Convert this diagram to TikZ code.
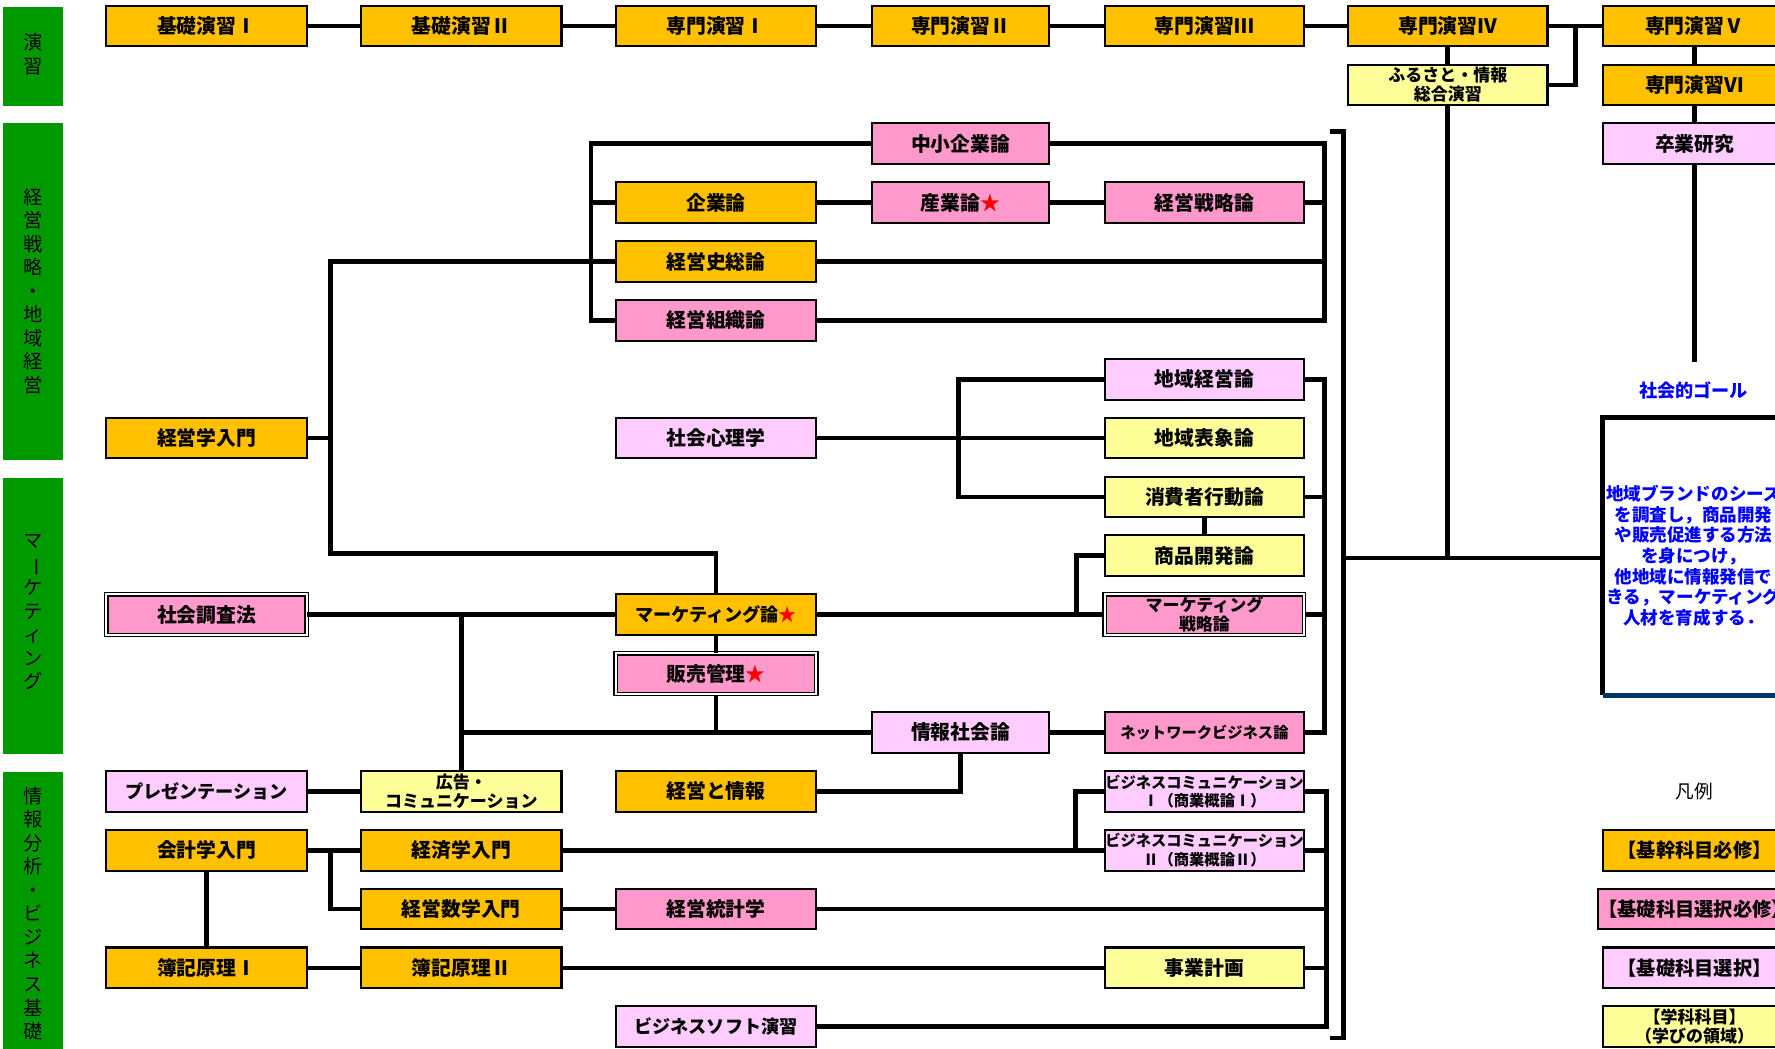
\documentclass[tikz,border=0pt]{standalone}
\usepackage{fontspec}
\usepackage{graphicx}
\setmainfont{Noto Sans CJK JP}
\definecolor{corange}{HTML}{FFC000}
\definecolor{cpink}{HTML}{FF99CC}
\definecolor{clpink}{HTML}{FFCCFF}
\definecolor{cyellow}{HTML}{FFFF99}
\definecolor{cgreen}{HTML}{009900}
\definecolor{cnavy}{HTML}{003366}
\definecolor{cblue}{HTML}{0000FF}
\newcommand{\rst}{\textcolor{red}{★}}
\begin{document}
\begin{tikzpicture}[x=1pt,y=-1pt,
  box/.style={draw, line width=1.8pt, minimum height=36pt, inner sep=0pt, align=center,
    font=\bfseries\fontsize{17.5}{18}\selectfont},
  cA/.style={box, minimum width=177pt},
  cB/.style={box, minimum width=157pt},
  cC/.style={box, minimum width=176pt},
  cD/.style={box, minimum width=162pt},
  org/.style={fill=corange}, pnk/.style={fill=cpink}, lpk/.style={fill=clpink}, ylw/.style={fill=cyellow},
  dbl/.style={double=white, double distance=1.8pt, line width=1.2pt},
  kata/.style={font=\bfseries\fontsize{16}{17}\selectfont},
  small/.style={font=\bfseries\fontsize{13.5}{16}\selectfont},
  mid/.style={font=\bfseries\fontsize{15}{16.5}\selectfont},
  leg/.style={font=\bfseries\fontsize{17}{18}\selectfont},
  conn/.style={line width=4.2pt},
  side/.style={fill=cgreen, minimum width=53pt, inner sep=0pt},
  sidetext/.style={align=center, font=\fontsize{17}{20.8}\selectfont}]
\useasboundingbox (0,0) rectangle (1568,926);
\fill[white] (0,0) rectangle (1568,926);

% side labels
\node[side, minimum height=88pt] (g1) at (29.5,50) {};
\node[sidetext] (g1t) at (29.5,48) {演\\習};
\node[side, minimum height=297pt] (g2) at (29.5,257.5) {};
\node[sidetext] (g2t) at (29.5,257) {経\\営\\戦\\略\\・\\地\\域\\経\\営};
\node[side, minimum height=244pt] (g3) at (29.5,544) {};
\node[sidetext] (g3t) at (29.5,541) {マ\\\rotatebox[origin=c]{-90}{ー}\\ケ\\テ\\ィ\\ン\\グ};
\node[side, minimum height=260pt] (g4) at (29.5,812) {};
\node[sidetext] (g4t) at (29.5,807) {情\\報\\分\\析\\・\\ビ\\ジ\\ネ\\ス\\基\\礎};

% top row
\node[cA,org] (k1) at (182.5,23) {基礎演習Ⅰ};
\node[cA,org] (k2) at (407.5,23) {基礎演習Ⅱ};
\node[cA,org] (s1) at (632.5,23) {専門演習Ⅰ};
\node[cB,org] (s2) at (848.5,23) {専門演習Ⅱ};
\node[cC,org] (s3) at (1064,23) {専門演習Ⅲ};
\node[cC,org] (s4) at (1279,23) {専門演習Ⅳ};
\node[cD,org] (s5) at (1497,23) {専門演習Ⅴ};
\node[cC,ylw,mid] (furu) at (1279,75) {ふるさと・情報\\総合演習};
\node[cD,org] (s6) at (1497,75) {専門演習Ⅵ};
\node[cD,lpk] (sotsu) at (1497,127) {卒業研究};

% management
\node[cB,pnk] (chusho) at (848.5,127) {中小企業論};
\node[cA,org] (kigyo) at (632.5,179) {企業論};
\node[cB,pnk] (sangyo) at (848.5,179) {産業論\rst};
\node[cC,pnk] (senryaku) at (1064,179) {経営戦略論};
\node[cA,org] (shishi) at (632.5,231) {経営史総論};
\node[cA,pnk] (soshiki) at (632.5,283) {経営組織論};
\node[cC,lpk] (chiiki) at (1064,335) {地域経営論};
\node[cA,org] (nyumon) at (182.5,387) {経営学入門};
\node[cA,lpk] (shinri) at (632.5,387) {社会心理学};
\node[cC,ylw] (hyosho) at (1064,387) {地域表象論};
\node[cC,ylw] (shohisha) at (1064,439) {消費者行動論};
\node[cC,ylw] (shohin) at (1064,491) {商品開発論};

% marketing
\node[cA,pnk,dbl] (chosa) at (182.5,543) {社会調査法};
\node[cA,org,kata] (mkt) at (632.5,543) {マーケティング論\rst};
\node[cC,pnk,dbl,mid] (mktsen) at (1064,543) {マーケティング\\戦略論};
\node[cA,pnk,dbl] (hanbai) at (632.5,595) {販売管理\rst};
\node[cB,lpk] (johoshakai) at (848.5,647) {情報社会論};
\node[cC,pnk,small] (network) at (1064,647) {ネットワークビジネス論};

% info
\node[cA,lpk,kata] (pres) at (182.5,699) {プレゼンテーション};
\node[cA,ylw,mid] (kokoku) at (407.5,699) {広告・\\コミュニケーション};
\node[cA,org] (keijo) at (632.5,699) {経営と情報};
\node[cC,lpk,small] (bc1) at (1064,699) {ビジネスコミュニケーション\\Ⅰ（商業概論Ⅰ）};
\node[cA,org] (kaikei) at (182.5,751) {会計学入門};
\node[cA,org] (keizai) at (407.5,751) {経済学入門};
\node[cC,lpk,small] (bc2) at (1064,751) {ビジネスコミュニケーション\\Ⅱ（商業概論Ⅱ）};
\node[cA,org] (sugaku) at (407.5,803) {経営数学入門};
\node[cA,pnk] (tokei) at (632.5,803) {経営統計学};
\node[cA,org] (boki1) at (182.5,855) {簿記原理Ⅰ};
\node[cA,org] (boki2) at (407.5,855) {簿記原理Ⅱ};
\node[cC,ylw] (jigyo) at (1064,855) {事業計画};
\node[cA,lpk,kata] (soft) at (632.5,907) {ビジネスソフト演習};

% legend
\node[font=\fontsize{16.5}{18}\selectfont] (hanrei) at (1497,699) {凡例};
\node[cD,org,leg] (l1) at (1497,751) {【基幹科目必修】};
\node[cD,pnk,leg] (l2) at (1497,803) {【基礎科目選択必修】};
\node[cD,lpk,leg] (l3) at (1497,855) {【基礎科目選択】};
\node[cD,ylw,mid] (l4) at (1497,907) {【学科科目】\\（学びの領域）};

% goal
\node[text=cblue, font=\bfseries\fontsize{16}{17}\selectfont] (goaltitle) at (1496,345) {社会的ゴール};
\node[minimum width=162pt, minimum height=245pt, inner sep=0pt] (goal) at (1497,491.5) {};
\node[text=cblue, align=center, font=\bfseries\fontsize{15.5}{18.3}\selectfont] (goaltext) at (1496,491)
 {地域ブランドのシーズ\\を調査し，商品開発\\や販売促進する方法\\を身につけ，\\他地域に情報発信で\\きる，マーケティング\\人材を育成する．};
\draw[line width=4pt] (goal.south west) -- (goal.north west) -- (goal.north east);
\draw[line width=4pt, cnavy] (goal.south west) -- (goal.south east);

% coordinates
\coordinate (xA) at (522,0);
\coordinate (xB) at (292,0);
\coordinate (yB) at (0,489);
\coordinate (xC) at (1170,0);
\coordinate (xD) at (1172,0);
\coordinate (xE) at (1392,0);
\coordinate (xF) at (847,0);
\coordinate (xG) at (951,0);
\coordinate (xI) at (292,0);
\coordinate (xJ) at (950,0);
\coordinate (gEnd) at (1494,320);
\coordinate (brTL) at (1175,116);
\coordinate (brT) at (1187,116);
\coordinate (brB) at (1187,917);
\coordinate (brBL) at (1175,917);
\coordinate (brM) at (1187,493);

% top row links
\draw[conn] (k1.east) -- (k2.west);
\draw[conn] (k2.east) -- (s1.west);
\draw[conn] (s1.east) -- (s2.west);
\draw[conn] (s2.east) -- (s3.west);
\draw[conn] (s3.east) -- (s4.west);
\draw[conn] (s4.east) -- (s5.west);
\draw[conn] (furu.east) -| (xE |- s5.west);
\draw[conn] (s4.south) -- (furu.north);
\draw[conn] (s5.south) -- (s6.north);
\draw[conn] (s6.south) -- (sotsu.north);
\draw[conn] (sotsu.south) -- (sotsu.south |- gEnd);
\draw[conn] (furu.south) -- (furu.south |- brM);

% bracket and goal link
\draw[conn] (brTL) -- (brT) -- (brB) -- (brBL);
\draw[conn] (brM) -- (brM -| goal.west);

% management tree
\draw[conn] (chusho.west) -| (xA |- soshiki.west) -- (soshiki.west);
\draw[conn] (xA |- kigyo.west) -- (kigyo.west);
\draw[conn] (nyumon.east) -- (xB |- nyumon.east);
\draw[conn] (shishi.west) -| (xB |- yB) -| (mkt.north);
\draw[conn] (kigyo.east) -- (sangyo.west);
\draw[conn] (sangyo.east) -- (senryaku.west);
\draw[conn] (chusho.east) -| (xC |- soshiki.east) -- (soshiki.east);
\draw[conn] (senryaku.east) -- (xC |- senryaku.east);
\draw[conn] (shishi.east) -- (xC |- shishi.east);

% marketing
\draw[conn] (shinri.east) -- (hyosho.west);
\draw[conn] (chiiki.west) -| (xF |- shohisha.west) -- (shohisha.west);
\draw[conn] (shohisha.south) -- (shohin.north);
\draw[conn] (mkt.east) -- (mktsen.west);
\draw[conn] (shohin.west) -| (xG |- mktsen.west);
\draw[conn] (chosa.east) -- (mkt.west);
\draw[conn] (kokoku.north |- mkt.west) -- (kokoku.north);
\draw[conn] (kokoku.north |- johoshakai.west) -- (johoshakai.west);
\draw[conn] (mkt.south) -- (hanbai.north);
\draw[conn] (hanbai.south) -- (hanbai.south |- johoshakai.west);
\draw[conn] (johoshakai.east) -- (network.west);
\draw[conn] (keijo.east) -| (johoshakai.south);
\draw[conn] (chiiki.east) -| (xC |- network.east) -- (network.east);
\draw[conn] (shohisha.east) -- (xC |- shohisha.east);
\draw[conn] (mktsen.east) -- (xC |- mktsen.east);

% info
\draw[conn] (pres.east) -- (kokoku.west);
\draw[conn] (kaikei.east) -- (keizai.west);
\draw[conn] (xI |- keizai.west) |- (sugaku.west);
\draw[conn] (kaikei.south) -- (boki1.north);
\draw[conn] (boki1.east) -- (boki2.west);
\draw[conn] (boki2.east) -- (jigyo.west);
\draw[conn] (keizai.east) -- (bc2.west);
\draw[conn] (xJ |- bc2.west) |- (bc1.west);
\draw[conn] (sugaku.east) -- (tokei.west);
\draw[conn] (bc1.east) -| (xD |- soft.east) -- (soft.east);
\draw[conn] (bc2.east) -- (xD |- bc2.east);
\draw[conn] (tokei.east) -- (xD |- tokei.east);
\draw[conn] (jigyo.east) -- (xD |- jigyo.east);
\end{tikzpicture}
\end{document}
